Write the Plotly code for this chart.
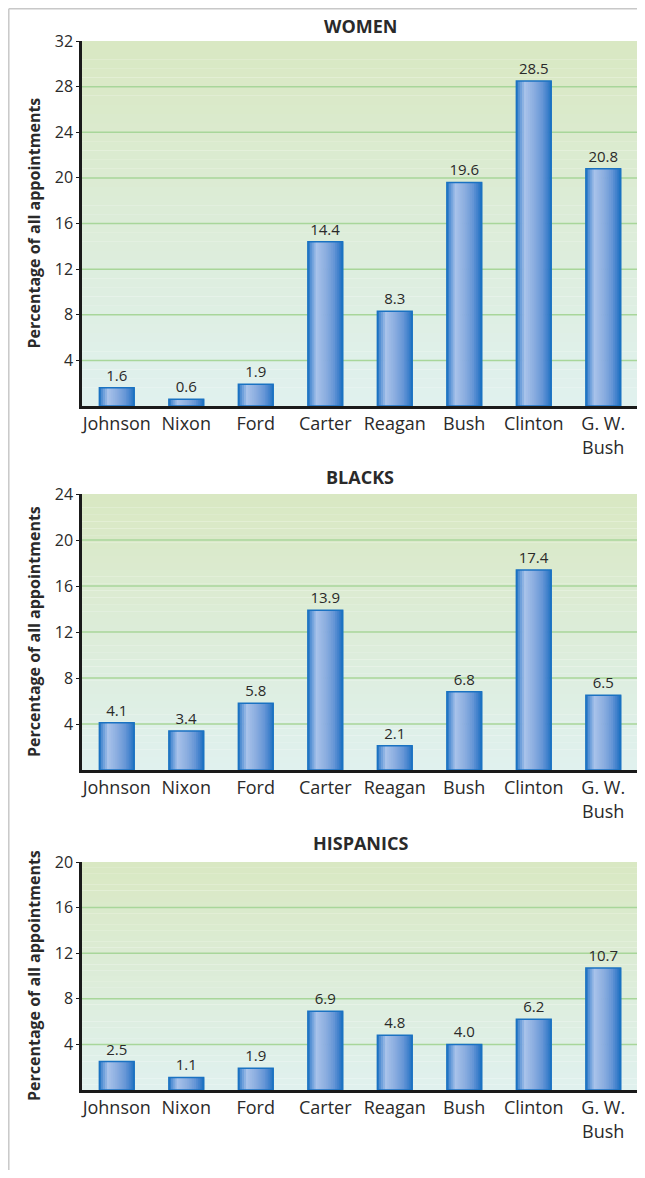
import plotly.graph_objects as go

presidents = ["Johnson", "Nixon", "Ford", "Carter", "Reagan", "Bush", "Clinton", "G. W.<br>Bush"]
women = [1.6, 0.6, 1.9, 14.4, 8.3, 19.6, 28.5, 20.8]
blacks = [4.1, 3.4, 5.8, 13.9, 2.1, 6.8, 17.4, 6.5]
hispanics = [2.5, 1.1, 1.9, 6.9, 4.8, 4.0, 6.2, 10.7]
panel_titles = ["WOMEN", "BLACKS", "HISPANICS"]
y_max = [32, 24, 20]
y_ticks = [[4, 8, 12, 16, 20, 24, 28, 32], [4, 8, 12, 16, 20, 24], [4, 8, 12, 16, 20]]
y_title = "Percentage of all appointments"

# page body has an 8px default margin -> figure shifted by 8px
OFF = 8
W, H = 645 - OFF, 1178 - 2 * OFF
FONT = "Open Sans"
TXT = "#2a2a2a"

def py(px):
    return 1 - (px - OFF) / H

def pxx(px):
    return (px - OFF) / W

x_dom = [pxx(82), pxx(638)]
y_doms = [[py(406), py(41)], [py(770), py(494)], [py(1090), py(862)]]
title_y = [26, 477, 843]

def hex2rgb(h):
    h = h.lstrip("#")
    return [int(h[i:i + 2], 16) for i in (0, 2, 4)]

def lerp_stops(stops, t):
    for (t0, c0), (t1, c1) in zip(stops, stops[1:]):
        if t0 <= t <= t1:
            f = (t - t0) / (t1 - t0) if t1 > t0 else 0
            a, b = hex2rgb(c0), hex2rgb(c1)
            return "rgb(%d,%d,%d)" % tuple(round(a[k] + (b[k] - a[k]) * f) for k in range(3))
    return stops[-1][1]

bar_stops = [(0, "#1a6fc0"), (0.08, "#5490d4"), (0.25, "#a8c2ea"), (0.5, "#8caee0"),
             (0.75, "#6696d6"), (0.9, "#3c7ecb"), (1.0, "#1a6fc0")]
bg_stops = [(0, "#e0f1ef"), (1, "#d9e8c2")]

fig = go.Figure()
shapes = []
annotations = []
datasets = [women, blacks, hispanics]
BW = 0.5
NS = 18
sw = BW / NS

for p, vals in enumerate(datasets):
    xa = "x" if p == 0 else "x%d" % (p + 1)
    ya = "y" if p == 0 else "y%d" % (p + 1)
    for i in range(NS):
        t = (i + 0.5) / NS
        fig.add_trace(go.Bar(
            x=presidents, y=vals, xaxis=xa, yaxis=ya,
            width=sw * 1.3, offset=-BW / 2 + i * sw,
            marker=dict(color=lerp_stops(bar_stops, t), line=dict(width=0)),
            hoverinfo="skip", showlegend=False))
    fig.add_trace(go.Bar(
        x=presidents, y=vals, xaxis=xa, yaxis=ya,
        width=BW, offset=-BW / 2,
        marker=dict(color="rgba(0,0,0,0)", line=dict(color="#1a72c2", width=1.5)),
        text=vals, texttemplate="%{y:.1f}", textposition="outside", cliponaxis=False,
        textfont=dict(family=FONT, size=15, color=TXT),
        showlegend=False))
    nb = 40
    for b in range(nb):
        y0 = y_max[p] * b / nb
        y1 = y_max[p] * (b + 1) / nb
        shapes.append(dict(type="rect", xref="paper", yref=ya,
                           x0=x_dom[0], x1=x_dom[1], y0=y0, y1=y1 + 0.01,
                           fillcolor=lerp_stops(bg_stops, (b + 0.5) / nb),
                           line=dict(width=0), layer="below"))
    # gridlines (not at the top edge)
    for v in y_ticks[p]:
        if v < y_max[p]:
            shapes.append(dict(type="line", xref="paper", yref=ya,
                               x0=x_dom[0], x1=x_dom[1], y0=v, y1=v,
                               line=dict(color="#a8d69a", width=1.5), layer="below"))
    suffix = "" if p == 0 else str(p + 1)
    fig.update_layout(**{
        "xaxis" + suffix: dict(domain=x_dom, anchor=ya, showline=True, linecolor="#1a1a1a",
                               linewidth=2.5, ticks="", showgrid=False, automargin=False,
                               tickfont=dict(family=FONT, size=18, color=TXT),
                               fixedrange=True),
        "yaxis" + suffix: dict(domain=y_doms[p], anchor=xa, range=[0, y_max[p]],
                               tickvals=y_ticks[p], showline=True, linecolor="#1a1a1a",
                               linewidth=2.5, ticks="outside", ticklen=3, tickcolor="#1a1a1a",
                               showgrid=False, zeroline=False, automargin=False,
                               tickfont=dict(family=FONT, size=16, color=TXT),
                               fixedrange=True),
    })
    annotations.append(dict(text="<b>%s</b>" % panel_titles[p], xref="paper", yref="paper",
                            x=(x_dom[0] + x_dom[1]) / 2, y=py(title_y[p]),
                            showarrow=False, xanchor="center", yanchor="middle",
                            font=dict(family=FONT, size=18, color=TXT)))
    annotations.append(dict(text="<b>%s</b>" % y_title, xref="paper", yref="paper",
                            x=pxx(34), y=(y_doms[p][0] + y_doms[p][1]) / 2,
                            textangle=-90, showarrow=False, xanchor="center", yanchor="middle",
                            font=dict(family=FONT, size=16, color=TXT)))

# thin grey frame (top and left edges)
shapes.append(dict(type="line", xref="paper", yref="paper", x0=pxx(8.8), x1=1, y0=py(8.8), y1=py(8.8),
                   line=dict(color="#c8c8c8", width=1.5)))
shapes.append(dict(type="line", xref="paper", yref="paper", x0=pxx(8.8), x1=pxx(8.8), y0=0, y1=py(8.8),
                   line=dict(color="#c8c8c8", width=1.5)))

fig.update_layout(
    width=W, height=H, margin=dict(l=0, r=0, t=0, b=0, autoexpand=False),
    paper_bgcolor="white", plot_bgcolor="rgba(0,0,0,0)",
    barmode="overlay",
    shapes=shapes, annotations=annotations,
    font=dict(family=FONT, color=TXT),
)

fig.write_html("out.html")
